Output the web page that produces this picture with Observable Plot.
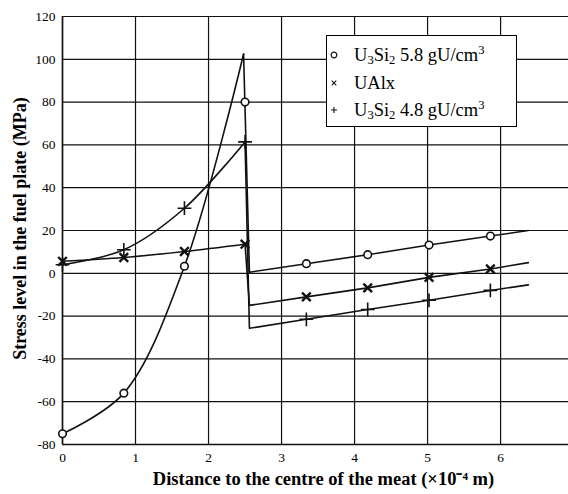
<!DOCTYPE html>
<html>
<head>
<meta charset="utf-8">
<script src="https://cdn.jsdelivr.net/npm/d3@7"></script>
<script src="https://cdn.jsdelivr.net/npm/@observablehq/plot@0.6"></script>
<style>
  body { margin: 0; background: #fff; }
  #wrap { position: relative; width: 568px; height: 494px; font-family: "Liberation Serif", "Times New Roman", serif; }
  #wrap svg text { font-family: "Liberation Serif", "Times New Roman", serif; }
  #legend { position: absolute; left: 326px; top: 35px; width: 191px; height: 92px; border: 1.4px solid #000; background: #fff; box-sizing: border-box; font-size: 18.5px; color: #000; }
  .row { position: absolute; left: 0; height: 22px; display: flex; align-items: center; white-space: nowrap; }
  .row svg { width: 12px; height: 12px; margin-left: 1px; margin-right: 14px; }
  .row sub, .row sup { font-size: 0.68em; line-height: 0; position: relative; vertical-align: baseline; }
  .row sub { top: 0.3em; }
  .row sup { top: -0.5em; }
</style>
</head>
<body>
<div id="wrap"></div>
<script>
// ---- data ----
const seriesNames = ["U3Si2 5.8 gU/cm3", "UAlx", "U3Si2 4.8 gU/cm3"];
const legendLabels = ["U<sub>3</sub>Si<sub>2</sub> 5.8 gU/cm<sup>3</sup>", "UAlx", "U<sub>3</sub>Si<sub>2</sub> 4.8 gU/cm<sup>3</sup>"];
const symbols = ["circle", "times", "plus"];

// marker positions (x in 1e-4 m)
const meatX = [0, 0.84, 1.67, 2.5];
const cladX = [3.34, 4.18, 5.02, 5.86];

const u58MeatY = [-75, -56, 3.3, 80];
const u58CladY = [4.5, 8.7, 13.2, 17.4];
const ualxMeatY = [5.6, 7.4, 10.2, 13.6];
const ualxCladY = [-11, -6.8, -1.9, 2];
const u48MeatY = [4, 11, 30.4, 61.4];
const u48CladY = [-21.5, -16.9, -12.6, -8];

// curve through the meat for the 5.8 gU/cm3 series (peaks at the interface)
const u58CurveX = [0, 0.84, 1.67, 2.48];
const u58CurveY = [-75, -56, 3.3, 102.5];

// cladding segments
const interfaceX = 2.56;
const cladEndX = 6.38;
const cladStartY = [0.5, -15, -25.7];
const cladEndY = [20, 5, -5.4];

const xTicks = [0, 1, 2, 3, 4, 5, 6];
const yTicks = [-80, -60, -40, -20, 0, 20, 40, 60, 80, 100, 120];

// ---- build tables ----
const meatY = [u58MeatY, ualxMeatY, u48MeatY];
const cladY = [u58CladY, ualxCladY, u48CladY];

const markers = [];
seriesNames.forEach((s, i) => {
  meatX.forEach((x, j) => markers.push({series: s, sym: symbols[i], x, y: meatY[i][j]}));
  cladX.forEach((x, j) => markers.push({series: s, sym: symbols[i], x, y: cladY[i][j]}));
});

const meatCurves = [];
seriesNames.forEach((s, i) => {
  const xs = i === 0 ? u58CurveX : meatX;
  const ys = i === 0 ? u58CurveY : meatY[i];
  xs.forEach((x, j) => meatCurves.push({series: s, x, y: ys[j]}));
});

const straight = [];
seriesNames.forEach((s, i) => {
  const xs = i === 0 ? u58CurveX : meatX;
  const ys = i === 0 ? u58CurveY : meatY[i];
  straight.push({series: s, x: xs[xs.length - 1], y: ys[ys.length - 1]});
  straight.push({series: s, x: interfaceX, y: cladStartY[i]});
  cladX.forEach((x, j) => straight.push({series: s, x, y: cladY[i][j]}));
  straight.push({series: s, x: cladEndX, y: cladEndY[i]});
});

const ink = "#111";
const serif = "'Liberation Serif', 'Times New Roman', serif";

const chart = Plot.plot({
  width: 568,
  height: 494,
  marginLeft: 62,
  marginRight: 0,
  marginTop: 16,
  marginBottom: 50,
  style: {fontFamily: serif, fontSize: "13px", color: "#000", background: "#fff"},
  x: {domain: [0, 6.93]},
  y: {domain: [-80, 120]},
  marks: [
    Plot.gridX(xTicks.filter(d => d > 0), {stroke: ink, strokeOpacity: 1, strokeWidth: 1.2}),
    Plot.gridY(yTicks, {stroke: ink, strokeOpacity: 1, strokeWidth: 1.2}),
    Plot.ruleX([0], {stroke: ink, strokeWidth: 1.7}),
    Plot.ruleY([-80], {stroke: ink, strokeWidth: 1.7}),
    Plot.axisX({ticks: xTicks, tickFormat: d => String(d), tickSize: 0, tickPadding: 8, fontSize: 13.5, fontFamily: serif, label: null}),
    Plot.axisY({ticks: yTicks, tickFormat: d => String(d), tickSize: 0, tickPadding: 7, fontSize: 13.5, fontFamily: serif, label: null}),
    Plot.line(meatCurves, {x: "x", y: "y", z: "series", curve: "catmull-rom", stroke: ink, strokeWidth: 1.6}),
    Plot.line(straight, {x: "x", y: "y", z: "series", stroke: ink, strokeWidth: 1.6}),
    Plot.dot(markers.filter(d => d.sym === "circle"), {x: "x", y: "y", symbol: "circle", r: 3.8, stroke: ink, strokeWidth: 1.6, fill: "#fff"}),
    Plot.dot(markers.filter(d => d.sym === "times"), {x: "x", y: "y", symbol: "times", r: 4, stroke: ink, strokeWidth: 2.4}),
    Plot.dot(markers.filter(d => d.sym === "plus"), {x: "x", y: "y", symbol: "plus", r: 4.5, stroke: ink, strokeWidth: 1.6}),
    Plot.text(["Distance to the centre of the meat (×10⁻⁴ m)"], {frameAnchor: "bottom", textAnchor: "middle", dx: 8, dy: 40, fontSize: 18.5, fontWeight: "bold", fontFamily: serif, fill: "#000"}),
    Plot.text(["Stress level in the fuel plate (MPa)"], {frameAnchor: "left", textAnchor: "middle", dx: -42, dy: -2, rotate: -90, fontSize: 18, fontWeight: "bold", fontFamily: serif, fill: "#000"})
  ]
});

const wrap = document.getElementById("wrap");
wrap.appendChild(chart);

// legend overlay
const legend = document.createElement("div");
legend.id = "legend";
const symSvg = {
  circle: '<svg viewBox="-6 -6 12 12"><circle r="2.8" fill="#fff" stroke="#111" stroke-width="1.2"/></svg>',
  times: '<svg viewBox="-6 -6 12 12"><path d="M-2.3,-2.3L2.3,2.3M-2.3,2.3L2.3,-2.3" stroke="#111" stroke-width="1.1"/></svg>',
  plus: '<svg viewBox="-6 -6 12 12"><path d="M-3,0H3M0,-3V3" stroke="#111" stroke-width="1.1"/></svg>'
};
const rowTops = [8, 36, 63];
legendLabels.forEach((lab, i) => {
  const row = document.createElement("div");
  row.className = "row";
  row.style.top = rowTops[i] + "px";
  row.innerHTML = symSvg[symbols[i]] + '<span>' + lab + '</span>';
  legend.appendChild(row);
});
wrap.appendChild(legend);
</script>
</body>
</html>
